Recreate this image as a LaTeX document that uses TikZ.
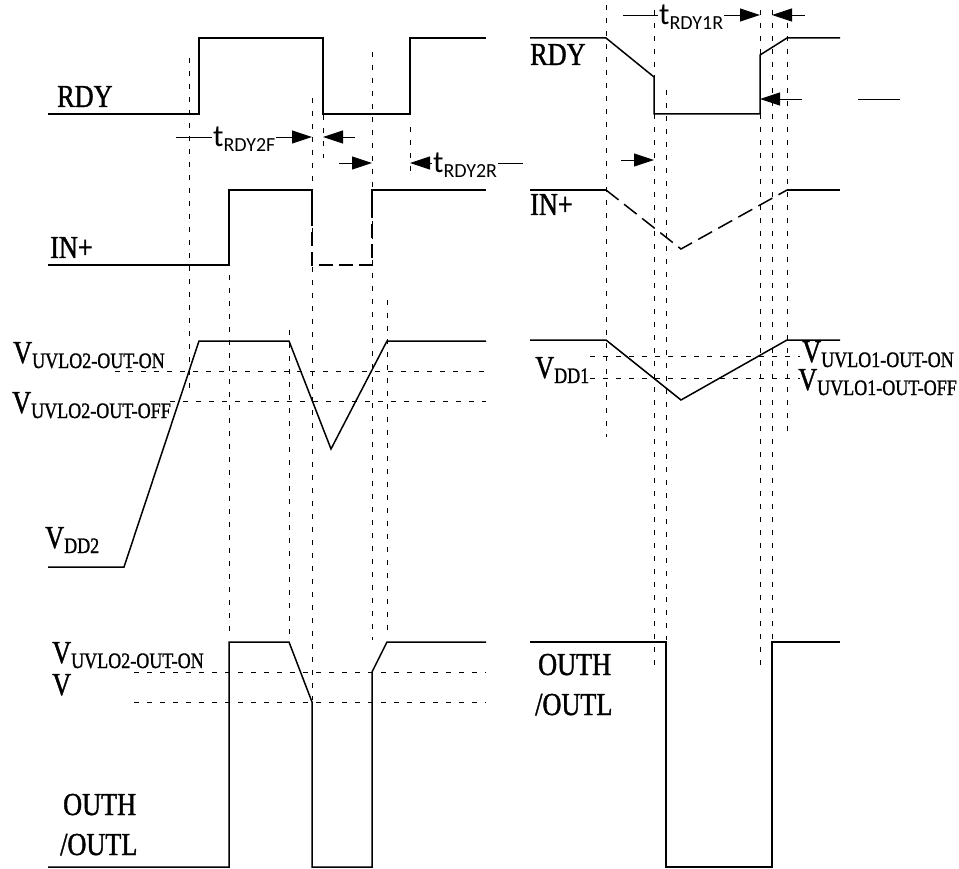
\documentclass[tikz,border=0pt]{standalone}
\usepackage{fontspec}
\setmainfont{Liberation Serif}[FakeStretch=0.82,FakeBold=1.2]
\newfontfamily\calfont{Carlito}
\usetikzlibrary{arrows.meta}

\newcommand{\sigv}[2]{#1\raisebox{-5pt}{\fontsize{22}{24}\selectfont #2}}
\newcommand{\tdel}[1]{{\calfont t\raisebox{-5pt}{\fontsize{20}{21}\selectfont #1}}}

\begin{document}
\begin{tikzpicture}[x=1pt,y=-1pt,
    wave/.style={line width=1.5pt,line join=miter},
    guide/.style={line width=0.6pt,dash pattern=on 5pt off 8pt},
    tarrow/.style={line width=0.8pt,-{Triangle[length=20pt,width=13pt]}},
    lbl/.style={anchor=base west,inner sep=0pt,font=\fontsize{32}{34}\selectfont},
    tlbl/.style={anchor=base west,inner sep=1pt,fill=white,font=\fontsize{31}{32}\selectfont}]

\useasboundingbox (0,0) rectangle (959,869);

% vertical guides
\foreach \x/\ya/\yb in {189/58/392, 229/275/635, 289/330/642, 312/98/700,
    323/115/158, 372/52/640, 387/300/635, 410/127/172,
    606/5/437, 654/10/670, 666/90/640, 760/10/667, 772/10/640, 787/10/438}
  \draw[guide] (\x,\ya) -- (\x,\yb);

% horizontal guides
\draw[guide] (115,371) -- (486,371);
\draw[guide] (170,401) -- (486,401);
\draw[guide] (134,672) -- (486,672);
\draw[guide] (134,702) -- (486,702);
\draw[guide] (590,356) -- (800,356);
\draw[guide] (590,378) -- (800,378);

% left side waveforms
\draw[wave] (48,114) -- (199,114) -- (199,38) -- (323,38) -- (323,114)
    -- (410,114) -- (410,38) -- (486,38);
\draw[wave] (48,265) -- (229,265) -- (229,190) -- (312,190) -- (312,212);
\draw[wave,dash pattern=on 14pt off 6pt] (312,212) -- (312,265) -- (372,265) -- (372,212);
\draw[wave] (372,212) -- (372,190) -- (486,190);
\draw[wave] (48,567) -- (124,567) -- (199,341) -- (289,341) -- (331,449)
    -- (387,341) -- (486,341);
\draw[wave] (48,867) -- (229,867) -- (229,642) -- (289,642) -- (312,702)
    -- (312,867) -- (372,867) -- (372,672) -- (387,642) -- (486,642);

% right side waveforms
\draw[wave] (530,38) -- (606,38) -- (654,77) -- (654,114) -- (760,114)
    -- (760,55) -- (787,38) -- (840,38);
\draw[wave] (530,190) -- (606,190);
\draw[wave,dash pattern=on 16pt off 7pt] (606,190) -- (681,249) -- (787,190);
\draw[wave] (787,190) -- (840,190);
\draw[wave] (530,340) -- (606,340) -- (681,400) -- (787,340) -- (840,340);
\draw[wave] (530,642) -- (666,642) -- (666,867) -- (772,867) -- (772,642) -- (840,642);

% delay arrows
\coordinate (f2a) at (176,137);
\coordinate (f2b) at (312,137);
\coordinate (f2c) at (355,137);
\coordinate (f2d) at (323,137);
\coordinate (r2a) at (339,163);
\coordinate (r2b) at (372,163);
\coordinate (r2c) at (523,163);
\coordinate (r2d) at (410,163);
\coordinate (r1a) at (621,160);
\coordinate (r1b) at (654,160);
\coordinate (r1c) at (623,15);
\coordinate (r1d) at (760,15);
\coordinate (r1e) at (805,15);
\coordinate (r1f) at (772,15);
\coordinate (r1g) at (802,99);
\coordinate (r1h) at (760,99);
\coordinate (r1i) at (858,99);
\coordinate (r1j) at (900,99);

\draw[tarrow] (f2a) -- (f2b);
\draw[tarrow] (f2c) -- (f2d);
\draw[tarrow] (r2a) -- (r2b);
\draw[tarrow] (r2c) -- (r2d);
\draw[tarrow] (r1a) -- (r1b);
\draw[tarrow] (r1c) -- (r1d);
\draw[tarrow] (r1e) -- (r1f);
\draw[tarrow] (r1g) -- (r1h);
\draw[line width=0.8pt] (r1i) -- (r1j);

\node[tlbl] (tf2) at (212,147) {\tdel{RDY2F}};
\node[tlbl] (tr2) at (432,173) {\tdel{RDY2R}};
\node[tlbl] (tr1) at (658,25) {\tdel{RDY1R}};

% left labels
\node[lbl] (rdyL) at (57,107) {RDY};
\node[lbl] (inL) at (50,258) {IN+};
\node[lbl] (onL) at (13,363) {\sigv{V}{UVLO2-OUT-ON}};
\node[lbl] (offL) at (12,413) {\sigv{V}{UVLO2-OUT-OFF}};
\node[lbl] (vddL) at (45,548) {\sigv{V}{DD2}};
\node[lbl] (on2L) at (52,663) {\sigv{V}{UVLO2-OUT-ON}};
\node[lbl] (vL) at (52,695) {V};
\node[lbl] (outhL) at (63,815) {OUTH};
\node[lbl] (outlL) at (60,855) {/OUTL};

% right labels
\node[lbl] (rdyR) at (530,65) {RDY};
\node[lbl] (inR) at (530,215) {IN+};
\node[lbl] (vddR) at (535,378) {\sigv{V}{DD1}};
\node[lbl] (onR) at (802,362) {\sigv{V}{UVLO1-OUT-ON}};
\node[lbl] (offR) at (798,390) {\sigv{V}{UVLO1-OUT-OFF}};
\node[lbl] (outhR) at (538,675) {OUTH};
\node[lbl] (outlR) at (535,715) {/OUTL};

\end{tikzpicture}
\end{document}
